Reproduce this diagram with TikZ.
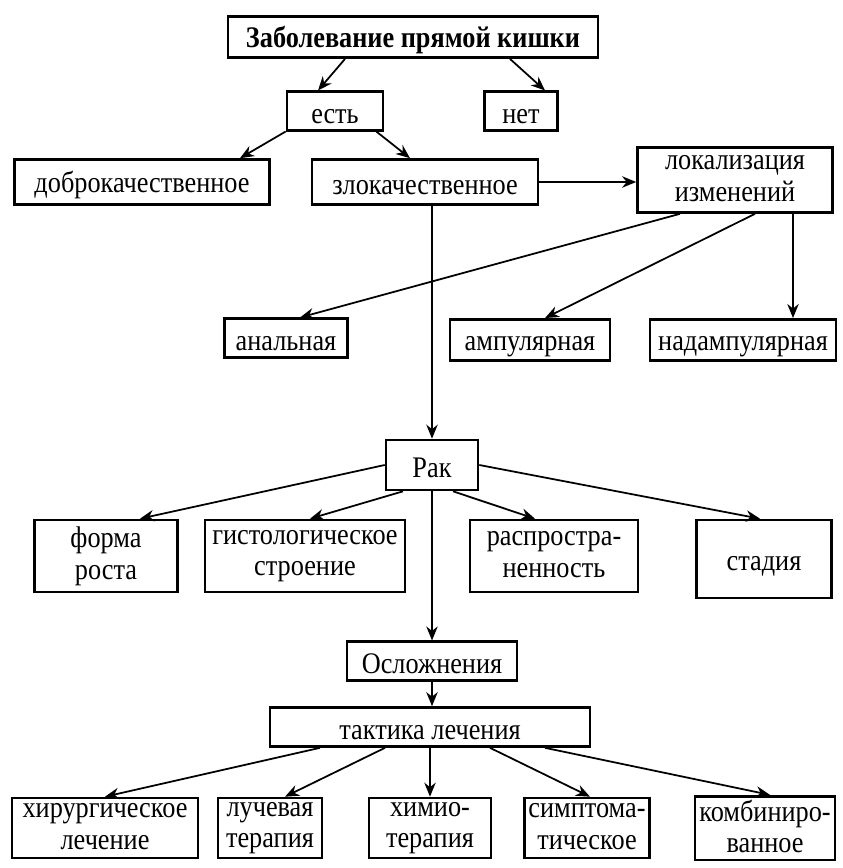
\documentclass[tikz,border=0pt]{standalone}
\usepackage{fontspec}
\setmainfont{Liberation Serif}[FakeStretch=0.88]
\usetikzlibrary{arrows.meta}
\newcommand\boxstrut{\rule[-0.12em]{0pt}{1.05em}}
\begin{document}
\begin{tikzpicture}[x=0.02cm,y=-0.02cm,
  box/.style={draw, line width=1.5pt, align=center, inner sep=2pt,
    font=\fontsize{17}{18}\selectfont,
    execute at begin node=\boxstrut, execute at end node=\boxstrut},
  arr/.style={-{Stealth[length=8pt,width=6.5pt]}, line width=1pt}]
\useasboundingbox (0,0) rectangle (842,868);

% top levels
\node[box, minimum width=7.4cm, minimum height=0.74cm,
  font=\fontsize{17}{18}\selectfont\bfseries] (zabol) at (413,37) {Заболевание прямой кишки};
\node[box, minimum width=1.92cm, minimum height=0.76cm] (est) at (335,111) {есть};
\node[box, minimum width=1.46cm, minimum height=0.76cm] (net) at (521,111) {нет};
\node[box, minimum width=5.1cm, minimum height=0.9cm] (dobro) at (142,182) {доброкачественное};
\node[box, minimum width=4.52cm, minimum height=0.9cm] (zlo) at (425,182) {злокачественное};
\node[box, minimum width=3.9cm, minimum height=1.3cm] (lokal) at (735,180) {локализация\\изменений};

% localisation
\node[box, minimum width=2.46cm, minimum height=0.74cm] (anal) at (286,338) {анальная};
\node[box, minimum width=3.2cm, minimum height=0.8cm] (ampul) at (530,340) {ампулярная};
\node[box, minimum width=3.72cm, minimum height=0.8cm] (nadamp) at (743,340) {надампулярная};

% cancer
\node[box, minimum width=1.84cm, minimum height=1cm] (rak) at (432,465) {Рак};
\node[box, minimum width=2.86cm, minimum height=1.44cm] (forma) at (106,556) {форма\\роста};
\node[box, minimum width=4cm, minimum height=1.44cm] (gist) at (305,556) {гистологическое\\строение};
\node[box, minimum width=3.36cm, minimum height=1.44cm] (rasp) at (554,556) {распростра-\\ненность};
\node[box, minimum width=2.7cm, minimum height=1.56cm] (stad) at (764,559) {стадия};

\node[box, minimum width=3.4cm, minimum height=0.76cm] (oslozh) at (432,661) {Осложнения};
\node[box, minimum width=6.4cm, minimum height=0.78cm] (taktika) at (430,727) {тактика лечения};

% treatment
\node[box, minimum width=3.72cm, minimum height=1.2cm] (hirurg) at (105,828) {хирургическое\\лечение};
\node[box, minimum width=2.08cm, minimum height=1.2cm] (luch) at (270,828) {лучевая\\терапия};
\node[box, minimum width=2.44cm, minimum height=1.2cm] (himio) at (430,828) {химио-\\терапия};
\node[box, minimum width=2.5cm, minimum height=1.2cm] (simpt) at (587,828) {симптома-\\тическое};
\node[box, minimum width=2.8cm, minimum height=1.2cm] (kombi) at (765,828) {комбиниро-\\ванное};

% arrows
\draw[arr] ([xshift=-1.36cm]zabol.south) -- ([xshift=-0.34cm]est.north);
\draw[arr] ([xshift=1.94cm]zabol.south) -- ([xshift=0.48cm]net.north);
\draw[arr] (est.south west) -- ([xshift=1.96cm]dobro.north);
\draw[arr] ([xshift=-0.16cm]est.south east) -- ([xshift=-0.3cm]zlo.north);
\draw[arr] (zlo.east) -- (zlo.east -| lokal.west);
\draw[arr] ([xshift=-1.1cm]lokal.south) -- ([xshift=0.28cm]anal.north);
\draw[arr] ([xshift=0.4cm]lokal.south) -- ([xshift=0.3cm]ampul.north);
\draw[arr] ([xshift=1.16cm]lokal.south) -- ([xshift=1.16cm]lokal.south |- nadamp.north);
\draw[arr] (zlo.south -| rak.north) -- (rak.north);

\draw[arr] (rak.west) -- ([xshift=0.68cm]forma.north);
\draw[arr] ([xshift=-0.58cm]rak.south) -- ([xshift=0.1cm]gist.north);
\draw[arr] ([xshift=0.42cm]rak.south) -- ([xshift=-0.38cm]rasp.north);
\draw[arr] (rak.east) -- ([xshift=-0.08cm]stad.north);
\draw[arr] (rak.south) -- (oslozh.north);
\draw[arr] (oslozh.south) -- (oslozh.south |- taktika.north);

\draw[arr] ([xshift=-2.2cm]taktika.south) -- (hirurg.north);
\draw[arr] ([xshift=-0.9cm]taktika.south) -- ([xshift=0.3cm]luch.north);
\draw[arr] (taktika.south) -- (himio.north);
\draw[arr] ([xshift=1.2cm]taktika.south) -- ([xshift=0.06cm]simpt.north);
\draw[arr] ([xshift=2.3cm]taktika.south) -- ([xshift=0.1cm]kombi.north);
\end{tikzpicture}
\end{document}
